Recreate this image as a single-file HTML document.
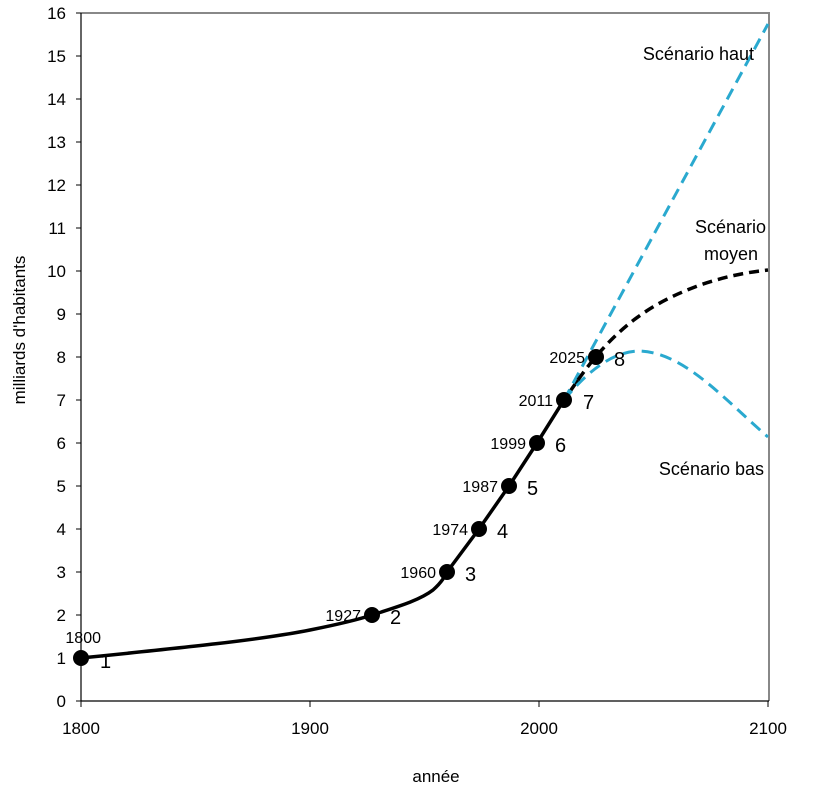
<!DOCTYPE html>
<html><head><meta charset="utf-8"><style>
body{margin:0;background:#fff}
text{font-family:"Liberation Sans",sans-serif}
.c{font-family:"DejaVu Sans","Liberation Sans",sans-serif}
</style></head><body>
<svg width="823" height="790" xmlns="http://www.w3.org/2000/svg">
<rect width="823" height="790" fill="#fff"/>
<polyline points="81,13 769,13 769,701" fill="none" stroke="#888" stroke-width="2"/>
<line x1="81" y1="13" x2="81" y2="701" stroke="#000" stroke-width="1.2"/>
<line x1="81" y1="701" x2="769" y2="701" stroke="#000" stroke-width="1.2"/>
<g stroke="#000" stroke-width="1">
<line x1="76" y1="701" x2="81" y2="701"/><line x1="76" y1="658" x2="81" y2="658"/><line x1="76" y1="615" x2="81" y2="615"/><line x1="76" y1="572" x2="81" y2="572"/><line x1="76" y1="529" x2="81" y2="529"/><line x1="76" y1="486" x2="81" y2="486"/><line x1="76" y1="443" x2="81" y2="443"/><line x1="76" y1="400" x2="81" y2="400"/><line x1="76" y1="357" x2="81" y2="357"/><line x1="76" y1="314" x2="81" y2="314"/><line x1="76" y1="271" x2="81" y2="271"/><line x1="76" y1="228" x2="81" y2="228"/><line x1="76" y1="185" x2="81" y2="185"/><line x1="76" y1="142" x2="81" y2="142"/><line x1="76" y1="99" x2="81" y2="99"/><line x1="76" y1="56" x2="81" y2="56"/><line x1="76" y1="13" x2="81" y2="13"/>
<line x1="81" y1="701" x2="81" y2="707"/><line x1="310" y1="701" x2="310" y2="707"/><line x1="539" y1="701" x2="539" y2="707"/><line x1="768" y1="701" x2="768" y2="707"/>
</g>
<g font-size="17" text-anchor="end">
<text x="66" y="707">0</text><text x="66" y="664">1</text><text x="66" y="621">2</text><text x="66" y="578">3</text><text x="66" y="535">4</text><text x="66" y="492">5</text><text x="66" y="449">6</text><text x="66" y="406">7</text><text x="66" y="363">8</text><text x="66" y="320">9</text><text x="66" y="277">10</text><text x="66" y="234">11</text><text x="66" y="191">12</text><text x="66" y="148">13</text><text x="66" y="105">14</text><text x="66" y="62">15</text><text x="66" y="19">16</text>
</g>
<g font-size="17" text-anchor="middle">
<text x="81" y="734">1800</text><text x="310" y="734">1900</text><text x="539" y="734">2000</text><text x="768" y="734">2100</text>
</g>
<text x="436" y="782" font-size="17" text-anchor="middle">année</text>
<text transform="translate(25,330) rotate(-90)" font-size="17" text-anchor="middle">milliards d'habitants</text>
<path d="M81,658 C180,648 260,640 310,630 C340,624 360,619 372,615 C400,606 420,600 433,590 C442,582 445,576 447,572 L479,529 L509,486 L537,443 L564,400 L578,380" fill="none" stroke="#000" stroke-width="3.5"/>
<path d="M564,400 L768,24" fill="none" stroke="#2aa9cf" stroke-width="3" stroke-dasharray="12,7"/>
<path d="M564,400 C595,362 620,351 640,351 C685,353 725,400 768,437" fill="none" stroke="#2aa9cf" stroke-width="3" stroke-dasharray="12,7"/>
<path d="M578,380 C620,320 660,300 700,285 C730,275 750,272 768,270" fill="none" stroke="#000" stroke-width="3.5" stroke-dasharray="10,6"/>
<g fill="#000">
<circle cx="81" cy="658" r="8"/><circle cx="372" cy="615" r="8"/><circle cx="447" cy="572" r="8"/><circle cx="479" cy="529" r="8"/><circle cx="509" cy="486" r="8"/><circle cx="537" cy="443" r="8"/><circle cx="564" cy="400" r="8"/><circle cx="596" cy="357" r="8"/>
</g>
<g font-size="16" text-anchor="end">
<text x="101" y="643">1800</text><text x="361" y="621">1927</text><text x="436" y="578">1960</text><text x="468" y="535">1974</text><text x="498" y="492">1987</text><text x="526" y="449">1999</text><text x="553" y="406">2011</text><text x="585" y="363">2025</text>
</g>
<g font-size="20">
<text x="100" y="668">1</text><text x="390" y="624">2</text><text x="465" y="581">3</text><text x="497" y="538">4</text><text x="527" y="495">5</text><text x="555" y="452">6</text><text x="583" y="409">7</text><text x="614" y="366">8</text>
</g>
<g class="c" font-size="18" text-anchor="end">
<text x="754" y="60">Scénario haut</text>
<text x="766" y="233">Scénario</text>
<text x="758" y="260">moyen</text>
<text x="764" y="475">Scénario bas</text>
</g>
</svg>
</body></html>
